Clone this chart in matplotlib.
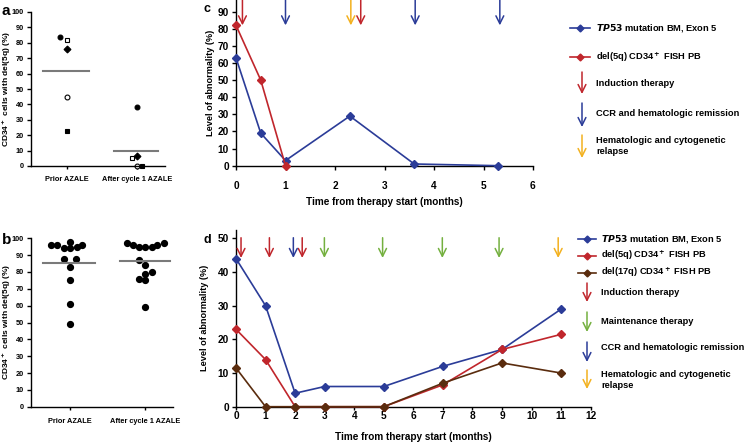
import numpy as np
import matplotlib
matplotlib.use("Agg")
import matplotlib.pyplot as plt

plt.rcParams['font.family'] = ['Liberation Sans', 'DejaVu Sans']
plt.rcParams['font.weight'] = 'bold'
plt.rcParams['axes.labelweight'] = 'bold'
plt.rcParams['mathtext.default'] = 'bf'

W, H = 747, 442

# ---- data ----
groups = ['Prior AZALE', 'After cycle 1 AZALE']

# panel a: individual patients (marker, filled) per group
a_prior = [84, 82, 76, 45, 23]
a_after = [38, 5, 6.5, 0, 0]
a_markers = ['o', 's', 'D', 'o', 's']
a_filled = [True, False, True, False, True]
a_prior_jit = [-0.09, 0.0, 0.0, 0.0, 0.0]
a_after_jit = [0.0, -0.07, 0.0, 0.0, 0.07]

# panel b
b_prior = [96, 96, 98, 94, 94, 95, 96, 88, 88, 83, 75, 61, 49]
b_prior_jit = [-0.26, -0.17, 0.0, -0.08, 0.0, 0.09, 0.16, -0.08, 0.08, 0.0, 0.0, 0.0, 0.0]
b_after = [97, 96, 95, 95, 95, 96, 97, 87, 84, 80, 79, 76, 75, 59]
b_after_jit = [-0.24, -0.16, -0.08, 0.0, 0.09, 0.16, 0.25, -0.08, 0.0, 0.09, 0.0, -0.08, 0.0, 0.0]

# panel c
c_tp53_t = [0, 0.5, 1, 2.3, 3.6, 5.3]
c_tp53 = [63, 19, 3, 29, 1, 0]
c_del5q_t = [0, 0.5, 1]
c_del5q = [82, 50, 0]
c_induction = [0.13, 2.52]
c_ccr = [1.0, 3.62, 5.33]
c_relapse = [2.32]

# panel d
d_t = [0, 1, 2, 3, 5, 7, 9, 11]
d_tp53 = [44, 30, 4, 6, 6, 12, 17, 29]
d_del5q = [23, 14, 0, 0, 0, 6.5, 17, 21.5]
d_del17q = [11.5, 0, 0, 0, 0, 7, 13, 10]
d_induction = [0.17, 1.13, 2.24]
d_maintenance = [2.99, 4.96, 6.98, 8.9]
d_ccr = [1.94]
d_relapse = [10.9]

BLUE = '#2b3c98'
RED = '#c0262c'
BROWN = '#5a2c0e'
GREEN = '#74b03f'
YELLOW = '#f3b11f'
GRAY = '#7a7a7a'
ARROW_SCALE = 14

fig = plt.figure(figsize=(W / 100, H / 100), dpi=100)


def px_axes(x0, y0, x1, y1):
    return fig.add_axes([x0 / W, 1 - y1 / H, (x1 - x0) / W, (y1 - y0) / H])


def style(ax, fs):
    for s in ['top', 'right']:
        ax.spines[s].set_visible(False)
    for s in ['left', 'bottom']:
        ax.spines[s].set_linewidth(1.0)
    ax.tick_params(length=3, width=1, labelsize=fs, pad=2)


def bold_ticks(ax):
    for t in ax.get_xticklabels() + ax.get_yticklabels():
        t.set_fontweight('bold')


# ---- panel a ----
ax = px_axes(31, 12, 165, 166)
style(ax, 5.3)
for i, (v, j) in enumerate(zip(a_prior, a_prior_jit)):
    ax.plot(0 + j, v, a_markers[i], ms=3.5, mec='black', mew=0.8,
            mfc='black' if a_filled[i] else 'white', clip_on=False)
for i, (v, j) in enumerate(zip(a_after, a_after_jit)):
    ax.plot(1 + j, v, a_markers[i], ms=3.5, mec='black', mew=0.8,
            mfc='black' if a_filled[i] else 'white', clip_on=False)
ax.plot([-0.34, 0.31], [np.mean(a_prior)] * 2, color=GRAY, lw=1.5)
ax.plot([0.67, 1.3], [np.mean(a_after)] * 2, color=GRAY, lw=1.5)
ax.set_xlim(-0.51, 1.4)
ax.set_ylim(0, 100)
ax.set_yticks(range(0, 101, 10))
ax.set_xticks([0, 1])
ax.set_xticklabels(groups)
ax.tick_params(axis='x', length=2, pad=5)
bold_ticks(ax)
ax.set_ylabel('CD34$^+$ cells with del(5q) (%)', fontsize=6.0)
ax.yaxis.set_label_coords(-0.135, 0.5)
fig.text(2 / W, 1 - 15 / H, 'a', fontsize=11, fontweight='bold')

# ---- panel b ----
ax = px_axes(31, 238.3, 173, 406.7)
style(ax, 5.3)
ax.plot(np.array(b_prior_jit) + 0, b_prior, 'o', ms=4.2, color='black', clip_on=False)
ax.plot(np.array(b_after_jit) + 1, b_after, 'o', ms=4.2, color='black', clip_on=False)
ax.plot([-0.36, 0.33], [np.mean(b_prior)] * 2, color=GRAY, lw=1.5)
ax.plot([0.67, 1.33], [np.mean(b_after)] * 2, color=GRAY, lw=1.5)
ax.set_xlim(-0.52, 1.37)
ax.set_ylim(0, 100)
ax.set_yticks(range(0, 101, 10))
ax.set_xticks([0, 1])
ax.set_xticklabels(groups)
ax.tick_params(axis='x', length=2, pad=6)
bold_ticks(ax)
ax.set_ylabel('CD34$^+$ cells with del(5q) (%)', fontsize=6.0)
ax.yaxis.set_label_coords(-0.128, 0.5)
fig.text(2 / W, 1 - 244 / H, 'b', fontsize=11, fontweight='bold')


def arrows(ax, xs, color, top, tip):
    for x in xs:
        ax.annotate('', xy=(x, tip), xytext=(x, top),
                    arrowprops=dict(arrowstyle='->', color=color, lw=1.1,
                                    mutation_scale=ARROW_SCALE, shrinkA=0, shrinkB=0),
                    annotation_clip=False)


# ---- panel c ----
ax = px_axes(236, 0, 533, 165.7)
style(ax, 7.3)
ax.plot(c_tp53_t, c_tp53, '-D', color=BLUE, ms=4, lw=1.2, clip_on=False, zorder=3)
ax.plot(c_del5q_t, c_del5q, '-D', color=RED, ms=4, lw=1.2, clip_on=False, zorder=3)
arrows(ax, c_induction, RED, 96.8, 82)
arrows(ax, c_ccr, BLUE, 96.8, 82)
arrows(ax, c_relapse, YELLOW, 96.8, 82)
ax.set_xlim(0, 6)
ax.set_ylim(0, 96.8)
ax.set_yticks(range(0, 91, 10))
ax.set_xticks(range(0, 7))
ax.tick_params(axis='x', pad=8)
bold_ticks(ax)
ax.set_xlabel('Time from therapy start (months)', fontsize=7.2, labelpad=4)
ax.set_ylabel('Level of abnormality (%)', fontsize=6.6, labelpad=2)
fig.text(203 / W, 1 - 12 / H, 'c', fontsize=9, fontweight='bold')

# ---- panel d ----
ax = px_axes(236, 230, 590.7, 406.7)
style(ax, 7.3)
ax.plot(d_t, d_tp53, '-D', color=BLUE, ms=4, lw=1.2, clip_on=False, zorder=3)
ax.plot(d_t, d_del5q, '-D', color=RED, ms=4, lw=1.2, clip_on=False, zorder=3)
ax.plot(d_t, d_del17q, '-D', color=BROWN, ms=4, lw=1.2, clip_on=False, zorder=3)
arrows(ax, d_induction, RED, 50.2, 44.2)
arrows(ax, d_maintenance, GREEN, 50.2, 44.2)
arrows(ax, d_ccr, BLUE, 50.2, 44.2)
arrows(ax, d_relapse, YELLOW, 50.2, 44.2)
ax.set_xlim(0, 12)
ax.set_ylim(0, 52.5)
ax.set_yticks(range(0, 51, 10))
ax.set_xticks(range(0, 13))
ax.tick_params(axis='x', length=2, pad=1)
bold_ticks(ax)
ax.set_xlabel('Time from therapy start (months)', fontsize=7.2, labelpad=8)
ax.set_ylabel('Level of abnormality (%)', fontsize=6.6, labelpad=6)
fig.text(203 / W, 1 - 243 / H, 'd', fontsize=9, fontweight='bold')

# ---- legends (overlay in pixel space) ----
lg = fig.add_axes([0, 0, 1, 1])
lg.set_xlim(0, W)
lg.set_ylim(H, 0)
lg.axis('off')


def leg_line(x0, x1, y, color, label, tx):
    lg.plot([x0, x1], [y, y], color=color, lw=1.2)
    lg.plot([(x0 + x1) / 2], [y], 'D', color=color, ms=3.5)
    lg.text(tx, y, label, fontsize=6.7, va='center', ha='left', fontweight='bold')


def leg_arrow(x, y0, y1, color, label, tx, ty):
    lg.annotate('', xy=(x, y1), xytext=(x, y0),
                arrowprops=dict(arrowstyle='->', color=color, lw=1.1,
                                mutation_scale=ARROW_SCALE, shrinkA=0, shrinkB=0))
    lg.text(tx, ty, label, fontsize=6.7, va='center', ha='left',
            linespacing=1.25, fontweight='bold')


# legend c
leg_line(570, 590, 28, BLUE, '$\\mathbf{\\it{TP53}}$ mutation BM, Exon 5', 596)
leg_line(570, 590, 57, RED, 'del(5q) CD34$^+$ FISH PB', 596)
leg_arrow(582, 72, 94, RED, 'Induction therapy', 596, 83)
leg_arrow(582, 103, 127, BLUE, 'CCR and hematologic remission', 596, 113)
leg_arrow(582, 135, 158, YELLOW, 'Hematologic and cytogenetic\nrelapse', 596, 146)

# legend d
leg_line(578, 596, 239, BLUE, '$\\mathbf{\\it{TP53}}$ mutation BM, Exon 5', 601)
leg_line(578, 596, 255.5, RED, 'del(5q) CD34$^+$ FISH PB', 601)
leg_line(578, 596, 272.5, BROWN, 'del(17q) CD34$^+$ FISH PB', 601)
leg_arrow(587, 283, 302, RED, 'Induction therapy', 601, 292.5)
leg_arrow(587, 312, 332, GREEN, 'Maintenance therapy', 601, 321.5)
leg_arrow(587, 342, 362, BLUE, 'CCR and hematologic remission', 601, 348)
leg_arrow(587, 370, 389, YELLOW, 'Hematologic and cytogenetic\nrelapse', 601, 380)

fig.savefig('out.png', dpi=100)
